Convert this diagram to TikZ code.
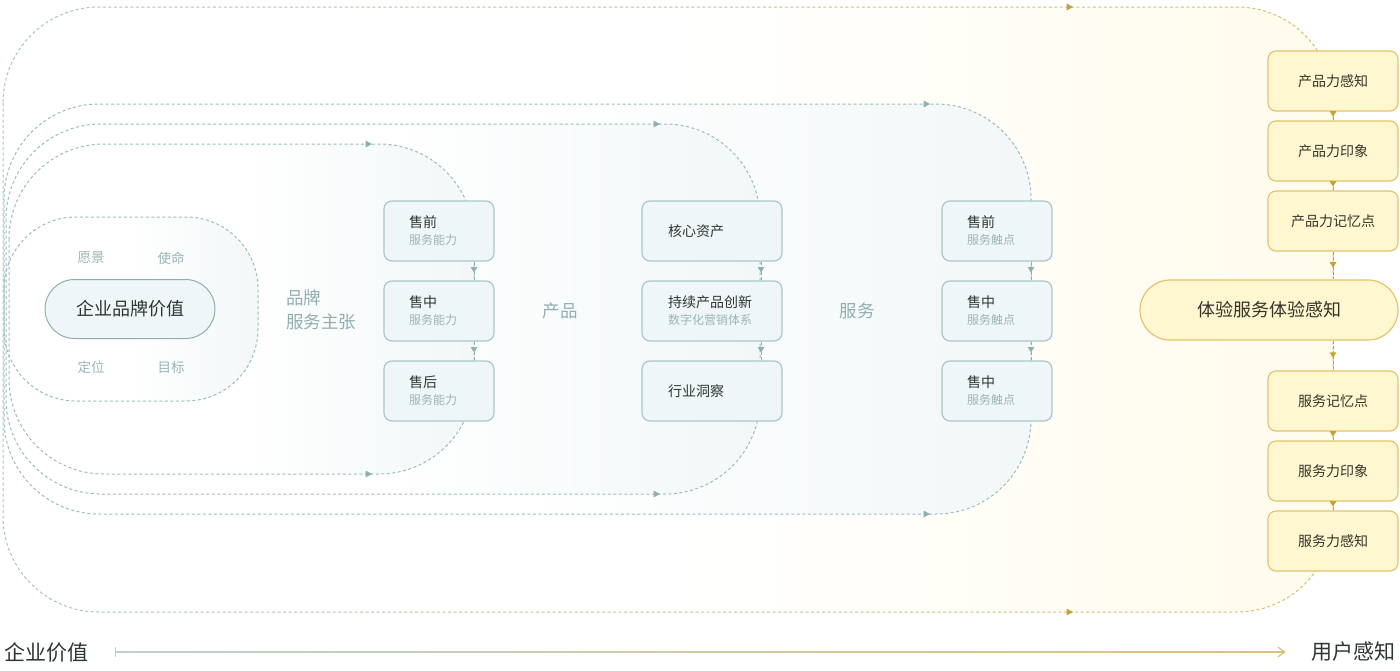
\documentclass[tikz,border=0pt]{standalone}
\usepackage{fontspec}
\setmainfont{Noto Sans CJK SC}
\usetikzlibrary{arrows.meta,decorations.markings,calc}

\definecolor{loopc}{HTML}{9CBCBD}
\definecolor{looptipc}{HTML}{8DB0B2}
\definecolor{tealtxt}{HTML}{8FAFAF}
\definecolor{boxfill}{HTML}{EFF6F7}
\definecolor{boxdraw}{HTML}{A9C7C8}
\definecolor{pilldraw}{HTML}{8EAFB0}
\definecolor{darktxt}{HTML}{2E3535}
\definecolor{subtxt}{HTML}{9AB6B6}
\definecolor{goldfill}{HTML}{FFF7D0}
\definecolor{golddraw}{HTML}{E3C46C}
\definecolor{goldarrow}{HTML}{C9A036}
\definecolor{browntxt}{HTML}{3B3129}
\definecolor{bluefade}{HTML}{F2F7F8}
\definecolor{yellowfade}{HTML}{FFFCEC}
\definecolor{axisL}{HTML}{BED3D0}
\definecolor{axisR}{HTML}{DDC27A}
\definecolor{outerL}{HTML}{A9C4C3}
\definecolor{outerR}{HTML}{D9BC6E}

\newcommand\myLoopTip[3]{\fill[#3] (#1,#2) -- ++(-6.5,-3.5) -- ++(0,7) -- cycle;}

\begin{document}
\begin{tikzpicture}[x=1pt,y=-1pt,
  loopline/.style={draw=loopc, line width=1pt, dash pattern=on 3pt off 2.5pt},
  loopfill/.style={left color=white, right color=bluefade, middle color=white},
  outerfill/.style={left color=white, right color=yellowfade, middle color=white},
  bluebox/.style={draw=boxdraw, fill=boxfill, line width=1.2pt, rounded corners=8pt,
    minimum width=110pt, minimum height=60pt, align=left, inner xsep=0pt, inner ysep=0pt,
    text=darktxt, font=\fontsize{14}{17}\selectfont},
  goldbox/.style={draw=golddraw, fill=goldfill, line width=1.2pt, rounded corners=8pt,
    minimum width=130pt, minimum height=60pt, align=center, inner sep=0pt,
    text=browntxt, font=\fontsize{14}{17}\selectfont},
  goldpill/.style={draw=golddraw, fill=goldfill, line width=1.2pt, rounded corners=30pt,
    minimum width=258pt, minimum height=60pt, inner sep=0pt,
    text=browntxt, font=\fontsize{18}{22}\selectfont},
  bluepill/.style={draw=pilldraw, fill=boxfill, line width=1pt, rounded corners=29.5pt,
    minimum width=170pt, minimum height=59pt, inner sep=0pt,
    text=darktxt, font=\fontsize{18}{22}\selectfont},
  smalllbl/.style={text=subtxt, font=\fontsize{13.5}{16}\selectfont, inner sep=0pt},
  seclbl/.style={text=tealtxt, font=\fontsize{17.5}{24}\selectfont, inner sep=0pt},
  axislbl/.style={text=darktxt, font=\fontsize{21}{24}\selectfont, inner sep=0pt},
  bconn/.style={draw=loopc, color=looptipc, line width=1pt, dash pattern=on 3pt off 2pt,
    postaction={decorate},
    decoration={markings, mark=at position 0.58 with {\arrow{Triangle[width=6.5pt,length=5.5pt]}}}},
  gconn/.style={draw=golddraw, color=goldarrow, line width=1pt, dash pattern=on 3pt off 2pt,
    postaction={decorate},
    decoration={markings, mark=at position 0.58 with {\arrow{Triangle[width=6.5pt,length=5.5pt]}}}}
]
\useasboundingbox (0,0) rectangle (1400,670);

% ---- background fills ----
\shade[outerfill, rounded corners=96pt] (3,7) rectangle (1333,612);
\shade[loopfill, rounded corners=95pt] (4,104) rectangle (1031,514);
\shade[loopfill, rounded corners=95pt] (6,124) rectangle (760,494);
\shade[loopfill, rounded corners=95pt] (9,144) rectangle (474,474);
\shade[loopfill, rounded corners=72pt] (4,217) rectangle (258,401);

% ---- outer loop, stroke with colour gradient ----
\foreach \i in {0,...,26} {
  \pgfmathsetmacro\pp{100*\i/26}
  \begin{scope}
    \clip (\i*50,-5) rectangle (\i*50+50,680);
    \draw[loopline, draw=outerR!\pp!outerL, rounded corners=96pt] (3,7) rectangle (1333,612);
  \end{scope}
}

% ---- inner loops ----
\draw[loopline, rounded corners=95pt] (4,104) rectangle (1031,514);
\draw[loopline, rounded corners=95pt] (6,124) rectangle (760,494);
\draw[loopline, rounded corners=95pt] (9,144) rectangle (474,474);
\draw[loopline, rounded corners=72pt] (4,217) rectangle (258,401);

\myLoopTip{372}{144}{looptipc}
\myLoopTip{372}{474}{looptipc}
\myLoopTip{660}{124}{looptipc}
\myLoopTip{660}{494}{looptipc}
\myLoopTip{930}{104}{looptipc}
\myLoopTip{930}{514}{looptipc}
\myLoopTip{1073}{7}{goldarrow}
\myLoopTip{1073}{612}{goldarrow}

% ---- brand group ----
\node[bluepill] (brand) at (130,309) {企业品牌价值};
\node[smalllbl] (l1) at (91,258) {愿景};
\node[smalllbl] (l2) at (171,258) {使命};
\node[smalllbl] (l3) at (91,367) {定位};
\node[smalllbl] (l4) at (171,367) {目标};

\node[seclbl, anchor=west, align=left] (sec1) at (286,310) {品牌\\服务主张};
\node[seclbl] (sec2) at (560,311) {产品};
\node[seclbl] (sec3) at (857,311) {服务};

% ---- column 1 ----
\node[bluebox, text width=60pt] (s1) at (439,231) {售前\\{\fontsize{12}{17}\selectfont\color{subtxt}服务能力}};
\node[bluebox, text width=60pt] (s2) at (439,311) {售中\\{\fontsize{12}{17}\selectfont\color{subtxt}服务能力}};
\node[bluebox, text width=60pt] (s3) at (439,391) {售后\\{\fontsize{12}{17}\selectfont\color{subtxt}服务能力}};

% ---- column 2 ----
\node[bluebox, minimum width=140pt, text width=88pt] (p1) at (712,231) {核心资产};
\node[bluebox, minimum width=140pt, text width=88pt] (p2) at (712,311) {持续产品创新\\{\fontsize{12}{17}\selectfont\color{subtxt}数字化营销体系}};
\node[bluebox, minimum width=140pt, text width=88pt] (p3) at (712,391) {行业洞察};

% ---- column 3 ----
\node[bluebox, text width=60pt] (f1) at (997,231) {售前\\{\fontsize{12}{17}\selectfont\color{subtxt}服务触点}};
\node[bluebox, text width=60pt] (f2) at (997,311) {售中\\{\fontsize{12}{17}\selectfont\color{subtxt}服务触点}};
\node[bluebox, text width=60pt] (f3) at (997,391) {售中\\{\fontsize{12}{17}\selectfont\color{subtxt}服务触点}};

% ---- right column ----
\node[goldbox] (r1) at (1333,81) {产品力感知};
\node[goldbox] (r2) at (1333,151) {产品力印象};
\node[goldbox] (r3) at (1333,221) {产品力记忆点};
\node[goldpill] (exp) at (1269,310) {体验服务体验感知};
\node[goldbox] (r4) at (1333,401) {服务记忆点};
\node[goldbox] (r5) at (1333,471) {服务力印象};
\node[goldbox] (r6) at (1333,541) {服务力感知};

% ---- connectors between boxes ----
\draw[bconn] ($(s1.south)+(35,0)$) -- ($(s2.north)+(35,0)$);
\draw[bconn] ($(s2.south)+(35,0)$) -- ($(s3.north)+(35,0)$);
\draw[bconn] ($(p1.south)+(49,0)$) -- ($(p2.north)+(49,0)$);
\draw[bconn] ($(p2.south)+(49,0)$) -- ($(p3.north)+(49,0)$);
\draw[bconn] ($(f1.south)+(34,0)$) -- ($(f2.north)+(34,0)$);
\draw[bconn] ($(f2.south)+(34,0)$) -- ($(f3.north)+(34,0)$);

\draw[gconn] (r1.south) -- (r2.north);
\draw[gconn] (r2.south) -- (r3.north);
\draw[gconn] (r3.south) -- (r3.south |- exp.north);
\draw[gconn] (r4.north |- exp.south) -- (r4.north);
\draw[gconn] (r4.south) -- (r5.north);
\draw[gconn] (r5.south) -- (r6.north);

% ---- bottom axis ----
\node[axislbl] (lv) at (47,652) {企业价值};
\node[axislbl] (uv) at (1353,652) {用户感知};
\coordinate (axs) at ($(lv.east)+(26,0)$);
\coordinate (axe) at ($(uv.west)+(-26,0)$);
\shade[left color=axisL, right color=axisR] ($(axs)+(0,-0.7)$) rectangle ($(axe)+(0,0.7)$);
\draw[axisL, line width=1.2pt] ($(axs)+(0,-5)$) -- ($(axs)+(0,5)$);
\draw[axisR, line width=1.2pt] ($(axe)+(-7,-5)$) -- (axe) -- ($(axe)+(-7,5)$);
\end{tikzpicture}
\end{document}
